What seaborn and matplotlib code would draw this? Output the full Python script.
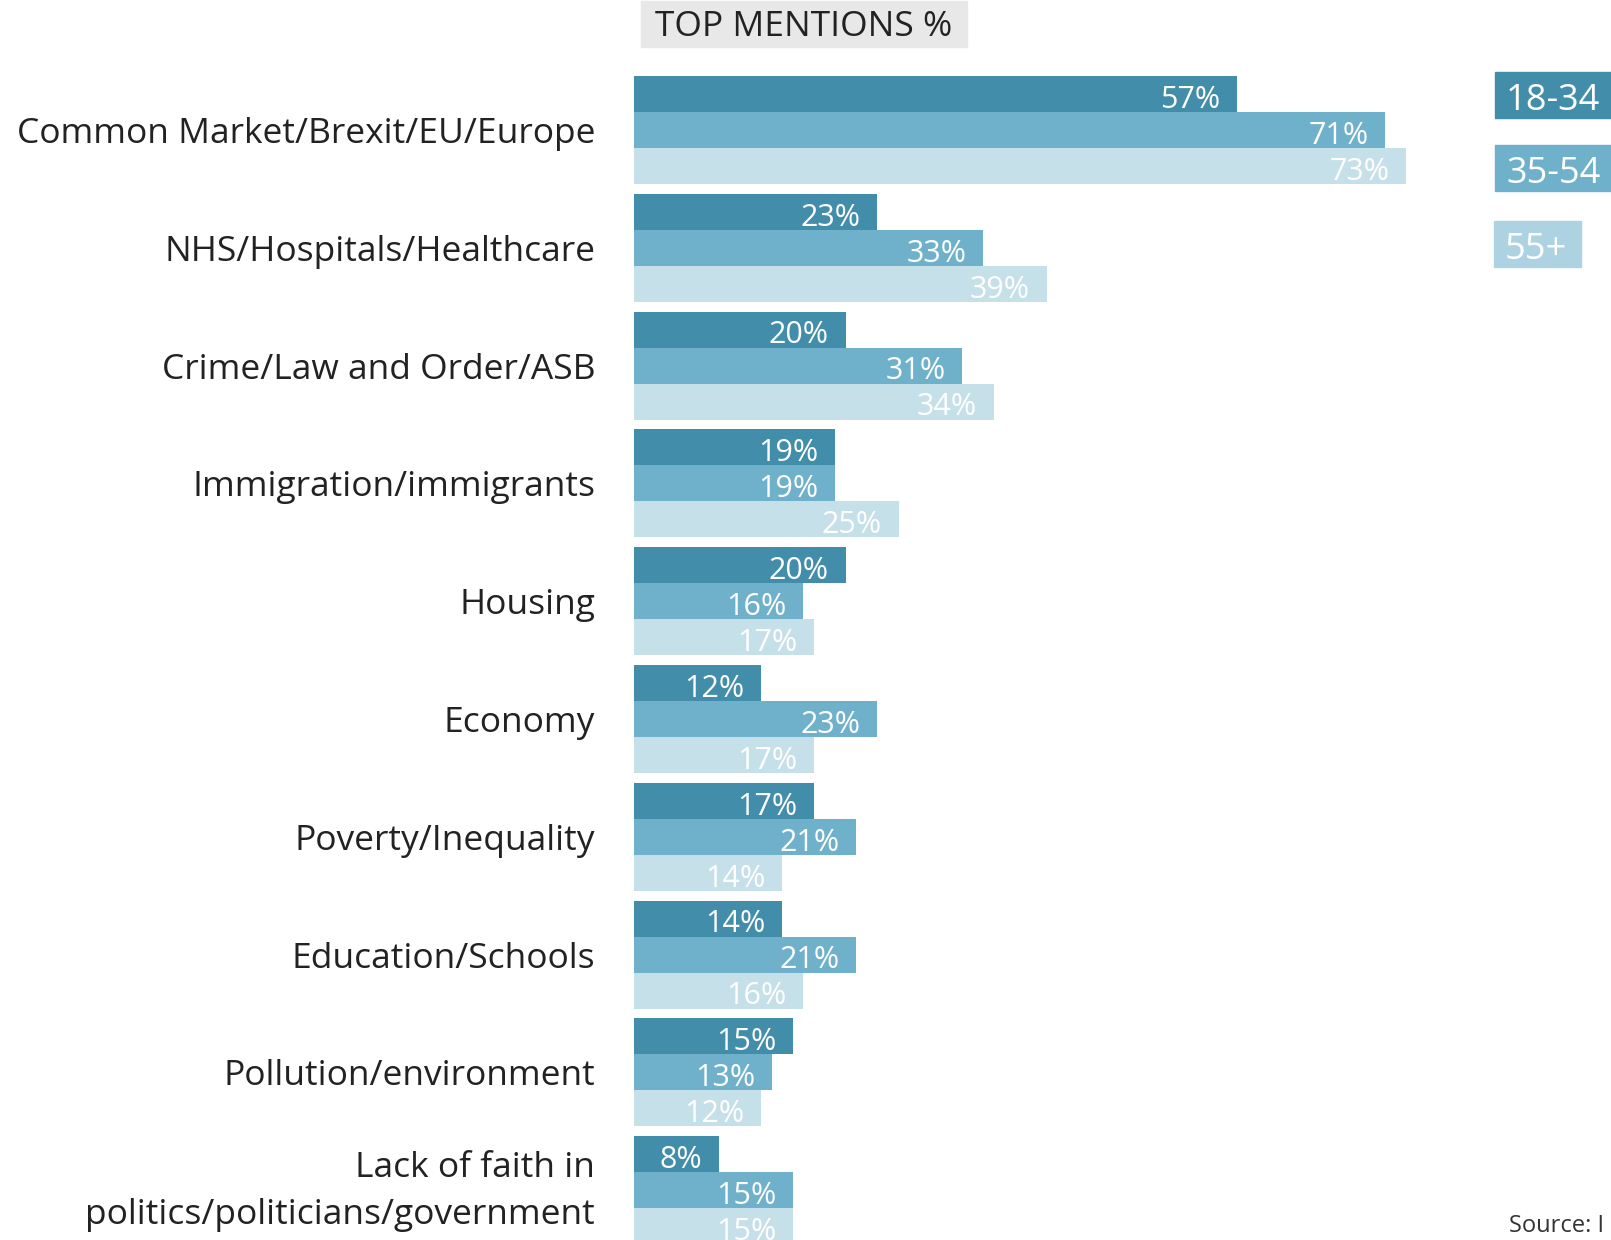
import pandas as pd
import numpy as np
import matplotlib.pyplot as plt
from matplotlib.patches import Rectangle
from matplotlib.transforms import ScaledTranslation
import seaborn as sns

issues = ["Common Market/Brexit/EU/Europe", "NHS/Hospitals/Healthcare",
          "Crime/Law and Order/ASB", "Immigration/immigrants", "Housing",
          "Economy", "Poverty/Inequality", "Education/Schools",
          "Pollution/environment",
          "Lack of faith in\npolitics/politicians/government"]
ages = ["18-34", "35-54", "55+"]
pct_18_34 = [57, 23, 20, 19, 20, 12, 17, 14, 15, 8]
pct_35_54 = [71, 33, 31, 19, 16, 23, 21, 21, 13, 15]
pct_55_plus = [73, 39, 34, 25, 17, 17, 14, 16, 12, 15]

colors = ["#428DAA", "#6FB1CA", "#C6E0E9"]
legend_colors = ["#428DAA", "#6FB1CA", "#ADD3E2"]

df = pd.DataFrame({
    "issue": issues * 3,
    "age": np.repeat(ages, len(issues)),
    "pct": pct_18_34 + pct_35_54 + pct_55_plus,
})

sns.set_style("white")
plt.rcParams["font.family"] = ["Open Sans", "DejaVu Sans"]

W, H = 1611, 1240
fig = plt.figure(figsize=(W / 100, H / 100), dpi=100)
x0 = 634
ax = fig.add_axes([x0 / W, 0, (W - x0) / W, 1])

sns.barplot(data=df, y="issue", x="pct", hue="age", orient="h",
            palette=colors, width=0.917, gap=0, ax=ax, legend=False,
            saturation=1, edgecolor="none")

px_per_pct = 10.58
ax.set_xlim(0, (W - x0) / px_per_pct)
grp = 117.8
c0 = 130
ax.set_ylim((H - c0) / grp, -c0 / grp)
ax.set_xlabel("")
ax.set_ylabel("")
ax.set_xticks([])
sns.despine(ax=ax, left=True, bottom=True)
ax.tick_params(axis="y", length=0, pad=28, labelsize=25.5, labelcolor="#222222")
for t in ax.get_yticklabels():
    t.set_linespacing(1.5)
    if "\n" in t.get_text():
        t.set_transform(t.get_transform() +
                        ScaledTranslation(0, 9 / 100, fig.dpi_scale_trans))

for cont, vals in zip(ax.containers, [pct_18_34, pct_35_54, pct_55_plus]):
    for p, v in zip(cont.patches, vals):
        ax.annotate(f"{v}%", (p.get_width(), p.get_y() + p.get_height()),
                    xytext=(-12, 3), textcoords="offset points",
                    ha="right", va="baseline", color="white", fontsize=22,
                    annotation_clip=False)

# title box
fig.patches.append(Rectangle((641 / W, 1 - 47 / H), 326 / W, 46 / H,
                             transform=fig.transFigure, color="#E8E8E8", zorder=0))
fig.text(804 / W, 1 - 27 / H, "TOP MENTIONS %", ha="center", va="center",
         fontsize=25.5, color="#222222")

# legend boxes
boxes = [(1495, 72, 116), (1495, 145, 116), (1494, 221, 87)]
for (bx, by, bw), lab, col in zip(boxes, ages, legend_colors):
    fig.patches.append(Rectangle((bx / W, 1 - (by + 46) / H), bw / W, 46 / H,
                                 transform=fig.transFigure, color=col))
    fig.text((bx + 11) / W, 1 - (by + 38) / H, lab, ha="left", va="baseline",
             fontsize=26, color="white")

fig.text(1509 / W, 1 - 1232 / H, "Source: I", ha="left", va="baseline",
         fontsize=17, color="#333333")

fig.savefig("out.png", dpi=100)
